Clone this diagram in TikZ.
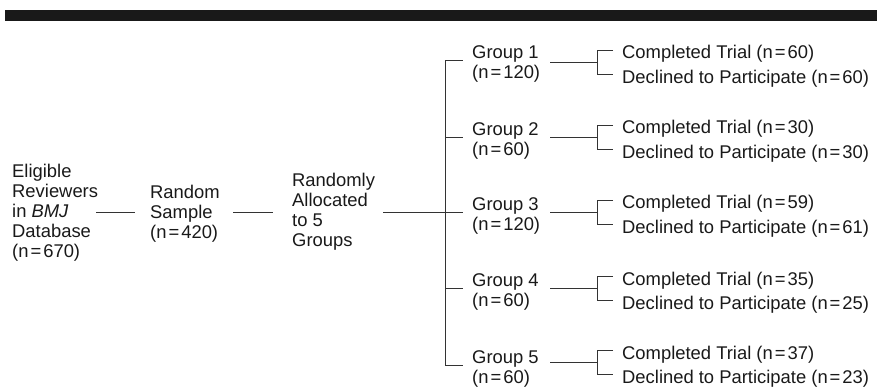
\documentclass[tikz,border=0pt]{standalone}
\usepackage{fontspec}
\setmainfont{Liberation Sans}
% count label such as (n = 60) with narrow gaps around the sign
\newcommand{\nval}[1]{(n\kern2pt=\kern2pt#1)}

\begin{document}
\begin{tikzpicture}[x=1pt,y=-1pt,
  lbl/.style={inner sep=0pt, align=left, font=\fontsize{18.4}{20}\selectfont, text=black!90},
  wire/.style={draw=black!80, line width=1.4pt}]
\useasboundingbox (0,0) rectangle (877,387);

% heading rule
\fill[black!90] (5,10) rectangle (877,21);

% left part of the flow
\node[lbl, anchor=west] (elig) at (12,212.5)
  {Eligible\\Reviewers\\in \textit{BMJ}\\Database\\\nval{670}};
\node[lbl, anchor=west] (rand) at (150,213.3)
  {Random\\Sample\\\nval{420}};
\node[lbl, anchor=west] (alloc) at (292,212)
  {Randomly\\Allocated\\to 5\\Groups};

\coordinate (e1) at (96,212.5);   \coordinate (e2) at (135,212.5);
\coordinate (r1) at (233,212.5);  \coordinate (r2) at (273,212.5);
\coordinate (a1) at (383,212.5);  \coordinate (bk) at (445.5,212.5);
\coordinate (btop) at (445.5,60.5); \coordinate (bbot) at (445.5,365.5);

\draw[wire] (e1) -- (e2);
\draw[wire] (r1) -- (r2);
\draw[wire] (a1) -- (bk);
\draw[wire] (btop) -- (bbot);

% the five groups and their outcomes
% \y: branch of the main bracket, \s: centre of the small bracket
\foreach \k/\y/\s/\n/\c/\d in {1/60.5/62.5/120/60/60, 2/137.5/137.5/60/30/30,
                               3/212.5/212.5/120/59/61, 4/288.5/288.5/60/35/25,
                               5/365.5/362.5/60/37/23} {
  \node[lbl, anchor=west] (g\k) at (472,\y+3) {Group \k\\\nval{\n}};
  \node[lbl, anchor=base west] (c\k) at (622,\s-3.5) {Completed Trial \nval{\c}};
  \node[lbl, anchor=base west] (d\k) at (622,\s+21) {Declined to Participate \nval{\d}};
  \coordinate (t\k) at (445.5,\y);
  \coordinate (u\k) at (463,\y);
  \coordinate (l\k) at (550,\s);
  \coordinate (s\k) at (597.5,\s);
  \coordinate (sc\k) at (613,\s-12);
  \coordinate (sd\k) at (613,\s+12);
  \draw[wire] (t\k) -- (u\k);
  \draw[wire] (l\k) -- (s\k);
  \draw[wire] (sc\k) -| (s\k) |- (sd\k);
}
\end{tikzpicture}
\end{document}
